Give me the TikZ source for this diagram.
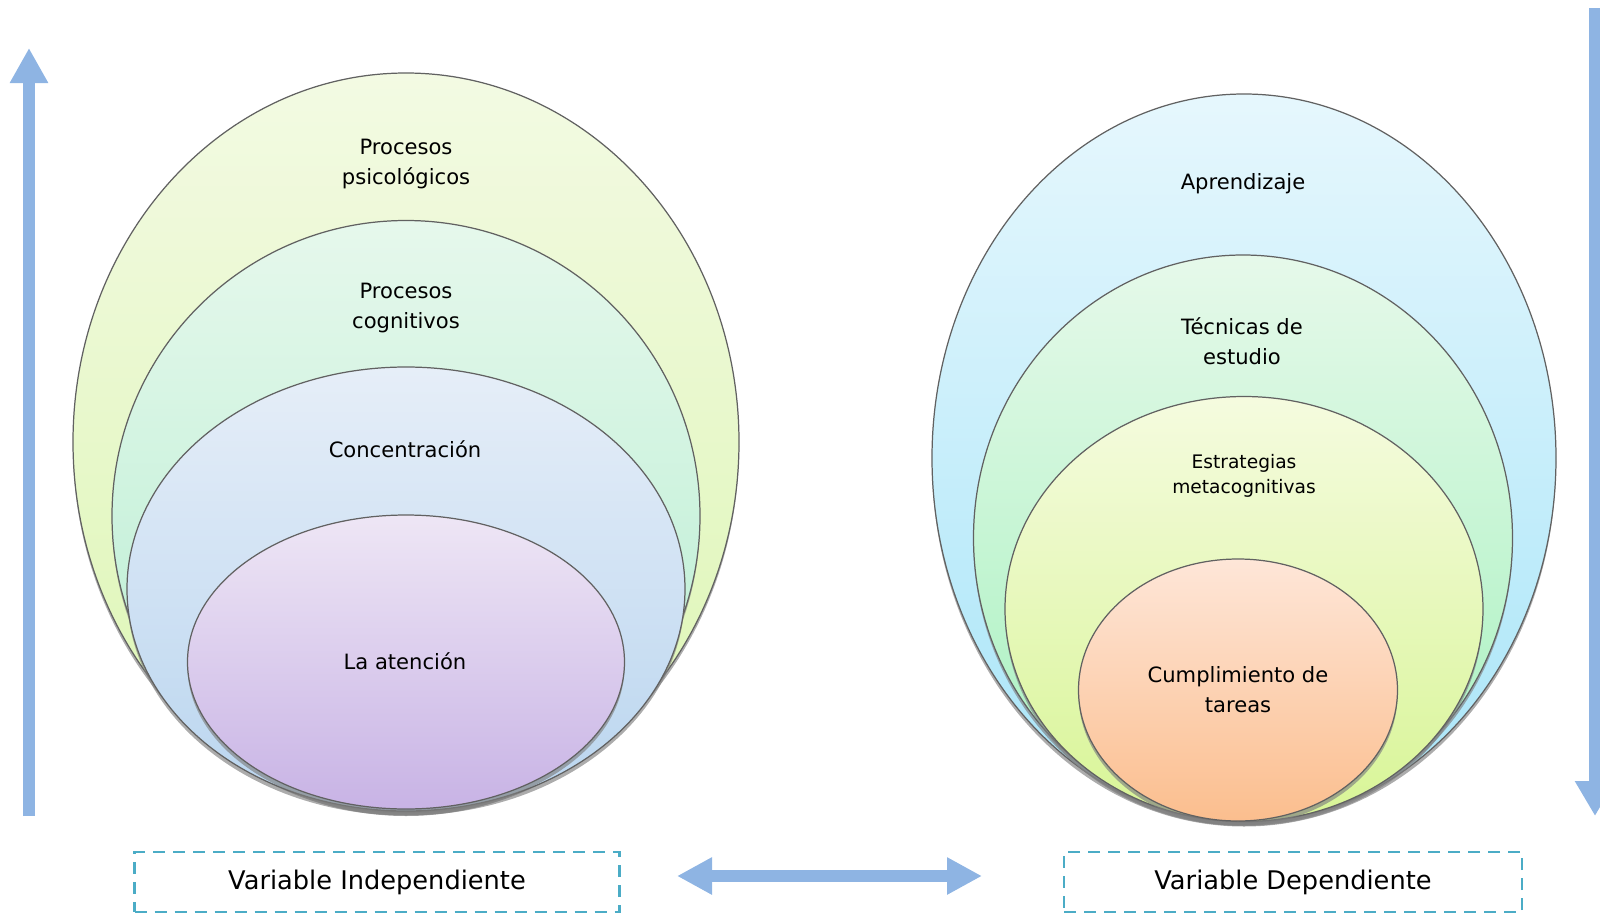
\documentclass[tikz,border=0pt]{standalone}
\usepackage{fontspec}
\setmainfont{DejaVu Sans}
\usetikzlibrary{shapes.geometric, shadows, arrows.meta, positioning}

\definecolor{flechaazul}{HTML}{8EB4E3}
\definecolor{cajaazul}{HTML}{4BACC6}
\definecolor{psicoA}{HTML}{F3FAE3}\definecolor{psicoB}{HTML}{DCF6B2}
\definecolor{cogniA}{HTML}{E6F8EC}\definecolor{cogniB}{HTML}{B4EDD0}
\definecolor{concA}{HTML}{E6EEF8}\definecolor{concB}{HTML}{B9D5EF}
\definecolor{atenA}{HTML}{EEE6F5}\definecolor{atenB}{HTML}{C8B3E5}
\definecolor{aprenA}{HTML}{E6F7FD}\definecolor{aprenB}{HTML}{A8E5F8}
\definecolor{tecA}{HTML}{E6F9EA}\definecolor{tecB}{HTML}{A6F1BE}
\definecolor{estrA}{HTML}{F5FBDF}\definecolor{estrB}{HTML}{D8F596}
\definecolor{cumpA}{HTML}{FEE6D8}\definecolor{cumpB}{HTML}{FBBE8E}

\begin{document}
\begin{tikzpicture}[x=0.1mm, y=-0.1mm,
		capa/.style={ellipse, draw=black!62, line width=0.35pt, inner sep=0pt,
			drop shadow={shadow xshift=0mm, shadow yshift=-0.45mm, opacity=0.65}},
		rotulo/.style={align=center, font=\fontsize{6}{8.5}\selectfont},
		cajavar/.style={draw=cajaazul, line width=0.27mm, dash pattern=on 1.2mm off 0.8mm,
			minimum height=6mm, inner sep=0pt, font=\fontsize{7.3}{9}\selectfont},
		flecha/.style={draw=flechaazul, line width=1.2mm}]
	\useasboundingbox (0,0) rectangle (1600,914);

	% variable independiente
	\node[capa, minimum width=66.6mm, minimum height=73.8mm, top color=psicoA, bottom color=psicoB] (psico) at (406,442) {};
	\node[capa, minimum width=58.8mm, minimum height=59.1mm, top color=cogniA, bottom color=cogniB] (cogni) at (406,516) {};
	\node[capa, minimum width=55.8mm, minimum height=44.4mm, top color=concA, bottom color=concB] (conc) at (406,589) {};
	\node[capa, minimum width=43.7mm, minimum height=29.4mm, top color=atenA, bottom color=atenB] (aten) at (406,662) {};
	\node[rotulo] (tPsico) at (406,164) {Procesos\\psicológicos};
	\node[rotulo] (tCogni) at (406,308) {Procesos\\cognitivos};
	\node[rotulo] (tConc) at (405,449) {Concentración};
	\node[rotulo] (tAten) at (405,661) {La atención};

	% variable dependiente
	\node[capa, minimum width=62.4mm, minimum height=72.8mm, top color=aprenA, bottom color=aprenB] (apren) at (1244,458) {};
	\node[capa, minimum width=53.9mm, minimum height=56.6mm, top color=tecA, bottom color=tecB] (tec) at (1243,538) {};
	\node[capa, minimum width=47.8mm, minimum height=42.5mm, top color=estrA, bottom color=estrB] (estr) at (1244,609) {};
	\node[capa, minimum width=31.9mm, minimum height=26.2mm, top color=cumpA, bottom color=cumpB] (cump) at (1238,690) {};
	\node[rotulo] (tApren) at (1243,184) {Aprendizaje};
	\node[rotulo] (tTec) at (1242,341) {Técnicas de\\estudio};
	\node[rotulo, font=\fontsize{5.3}{7.1}\selectfont] (tEstr) at (1244,476) {Estrategias\\metacognitivas};
	\node[rotulo] (tCump) at (1238,690) {Cumplimiento de\\tareas};

	\node[cajavar, minimum width=48.5mm] (vi) at (377,882) {Variable Independiente};
	\node[cajavar, minimum width=45.8mm] (vd) at (1293,882) {Variable Dependiente};

	\coordinate (subeIni) at (29,816);
	\coordinate (subeFin) at (29,48);
	\coordinate (bajaIni) at (1595,8);
	\coordinate (bajaFin) at (1595,816);
	\coordinate (dobleIzq) at (677,876);
	\coordinate (dobleDer) at (982,876);
	\draw[flecha, -{Triangle[length=3.5mm, width=3.6mm]}] (subeIni) -- (subeFin);
	\draw[flecha, -{Triangle[length=3.5mm, width=3.8mm]}] (bajaIni) -- (bajaFin);
	\draw[flecha, {Triangle[length=3.5mm, width=3.5mm]}-{Triangle[length=3.5mm, width=3.5mm]}] (dobleIzq) -- (dobleDer);
\end{tikzpicture}
\end{document}
